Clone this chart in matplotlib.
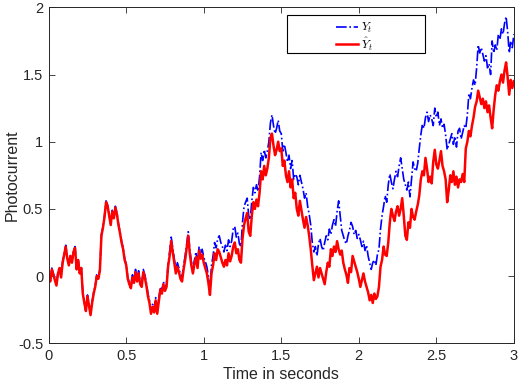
import numpy as np
import matplotlib
matplotlib.use("Agg")
import matplotlib.pyplot as plt
from matplotlib.patches import Rectangle
from matplotlib.ticker import FixedLocator, FuncFormatter

# time samples (s), 0.01 s step
t = np.linspace(0.0, 3.0, 301)

# estimated photocurrent \hat{Y}_t (red)
y_hat = [
    0.00, -0.04, 0.05, 0.01, -0.03, -0.07, 0.02, 0.06, -0.01, 0.10,
    0.16, 0.22, 0.13, 0.08, 0.15, 0.10, 0.18, 0.21, 0.05, 0.12,
    0.02, 0.06, -0.13, -0.20, -0.26, -0.15, -0.22, -0.29, -0.20, -0.13,
    -0.08, 0.00, -0.02, 0.04, 0.30, 0.36, 0.44, 0.55, 0.52, 0.45,
    0.38, 0.48, 0.43, 0.51, 0.46, 0.38, 0.32, 0.25, 0.20, 0.12,
    0.08, -0.02, -0.06, -0.09, -0.01, -0.05, 0.03, -0.04, 0.02, -0.06,
    -0.08, 0.03, -0.01, -0.07, -0.15, -0.20, -0.28, -0.23, -0.27, -0.18,
    -0.28, -0.19, -0.10, -0.13, -0.06, -0.11, -0.08, 0.07, 0.15, 0.26,
    0.18, 0.10, 0.02, 0.07, 0.03, -0.02, -0.04, 0.05, 0.12, 0.21,
    0.30, 0.17, 0.08, 0.02, 0.09, 0.14, 0.06, 0.19, 0.13, 0.16,
    0.10, 0.06, 0.02, -0.05, -0.14, 0.02, 0.08, 0.17, 0.12, 0.20,
    0.18, 0.14, 0.10, 0.07, 0.12, 0.08, 0.17, 0.11, 0.15, 0.22,
    0.25, 0.17, 0.20, 0.12, 0.10, 0.28, 0.38, 0.43, 0.47, 0.33,
    0.30, 0.45, 0.55, 0.50, 0.57, 0.52, 0.62, 0.78, 0.72, 0.82,
    0.75, 0.80, 0.88, 1.03, 1.06, 0.97, 0.90, 0.94, 1.00, 0.93,
    0.95, 0.82, 0.86, 0.75, 0.70, 0.78, 0.66, 0.72, 0.58, 0.62,
    0.50, 0.45, 0.56, 0.49, 0.42, 0.36, 0.44, 0.38, 0.30, 0.20,
    0.08, -0.03, 0.02, 0.07, -0.01, 0.06, 0.02, -0.02, -0.06, 0.03,
    0.10, 0.07, 0.20, 0.15, 0.22, 0.18, 0.26, 0.20, 0.16, 0.19,
    0.10, 0.05, 0.01, -0.05, 0.06, 0.03, 0.15, 0.11, 0.07, 0.03,
    -0.02, -0.08, -0.03, 0.02, -0.04, -0.08, -0.12, -0.18, -0.14, -0.20,
    -0.13, -0.17, -0.15, -0.08, 0.07, 0.12, 0.22, 0.16, 0.15, 0.25,
    0.40, 0.50, 0.45, 0.41, 0.48, 0.52, 0.45, 0.50, 0.58, 0.45,
    0.30, 0.27, 0.40, 0.36, 0.50, 0.44, 0.42, 0.48, 0.53, 0.60,
    0.72, 0.78, 0.75, 0.88, 0.80, 0.70, 0.74, 0.69, 0.85, 0.94,
    0.83, 0.80, 0.86, 0.93, 0.82, 0.78, 0.72, 0.55, 0.64, 0.75,
    0.70, 0.78, 0.68, 0.74, 0.66, 0.72, 0.70, 0.76, 0.70, 0.95,
    1.00, 1.08, 1.04, 1.12, 1.18, 1.26, 1.30, 1.38, 1.33, 1.28,
    1.32, 1.25, 1.30, 1.22, 1.27, 1.18, 1.10, 1.24, 1.35, 1.42,
    1.38, 1.45, 1.50, 1.44, 1.53, 1.59, 1.48, 1.35, 1.46, 1.40, 1.45,
]

# measured photocurrent Y_t (blue)
y_meas = [
    0.01, -0.03, 0.06, 0.02, -0.02, -0.06, 0.03, 0.07, 0.00, 0.11,
    0.17, 0.23, 0.14, 0.09, 0.16, 0.11, 0.19, 0.22, 0.06, 0.13,
    0.03, 0.07, -0.12, -0.19, -0.25, -0.14, -0.21, -0.28, -0.19, -0.12,
    -0.07, 0.01, -0.01, 0.05, 0.31, 0.37, 0.45, 0.56, 0.53, 0.46,
    0.39, 0.49, 0.44, 0.52, 0.47, 0.39, 0.33, 0.26, 0.21, 0.13,
    0.09, -0.01, -0.05, -0.07, 0.01, -0.03, 0.05, -0.02, 0.04, -0.04,
    -0.06, 0.05, 0.01, -0.05, -0.13, -0.18, -0.26, -0.21, -0.25, -0.16,
    -0.26, -0.17, -0.08, -0.11, -0.04, -0.09, -0.06, 0.09, 0.18, 0.29,
    0.21, 0.13, 0.05, 0.10, 0.06, 0.01, -0.01, 0.08, 0.15, 0.24,
    0.33, 0.20, 0.11, 0.05, 0.12, 0.18, 0.09, 0.22, 0.17, 0.20,
    0.14, 0.11, 0.07, 0.00, -0.09, 0.08, 0.15, 0.25, 0.21, 0.28,
    0.30, 0.25, 0.22, 0.18, 0.23, 0.19, 0.27, 0.22, 0.26, 0.35,
    0.37, 0.29, 0.32, 0.24, 0.22, 0.40, 0.52, 0.55, 0.58, 0.45,
    0.42, 0.56, 0.66, 0.62, 0.68, 0.63, 0.74, 0.92, 0.86, 0.94,
    0.88, 0.93, 1.00, 1.14, 1.20, 1.12, 1.06, 1.10, 1.16, 1.08,
    1.06, 0.93, 0.98, 0.92, 0.85, 0.90, 0.80, 0.86, 0.72, 0.76,
    0.74, 0.68, 0.75, 0.70, 0.65, 0.58, 0.62, 0.52, 0.46, 0.38,
    0.25, 0.18, 0.22, 0.15, 0.24, 0.28, 0.22, 0.19, 0.25, 0.30,
    0.27, 0.35, 0.31, 0.38, 0.42, 0.37, 0.48, 0.56, 0.45, 0.34,
    0.30, 0.26, 0.24, 0.30, 0.34, 0.40, 0.37, 0.31, 0.34, 0.28,
    0.31, 0.27, 0.22, 0.26, 0.19, 0.23, 0.15, 0.10, 0.05, 0.10,
    0.12, 0.08, 0.16, 0.20, 0.35, 0.45, 0.52, 0.60, 0.55, 0.68,
    0.76, 0.70, 0.65, 0.72, 0.78, 0.74, 0.82, 0.88, 0.80, 0.72,
    0.68, 0.64, 0.70, 0.59, 0.72, 0.85, 0.80, 0.78, 0.84, 0.95,
    1.05, 1.13, 1.10, 1.18, 1.22, 1.15, 1.20, 1.17, 1.12, 1.25,
    1.18, 1.22, 1.12, 1.17, 1.10, 1.13, 1.05, 0.94, 0.98, 1.02,
    1.06, 0.98, 1.04, 0.96, 1.08, 1.10, 1.02, 1.07, 1.12, 1.10,
    1.20, 1.36, 1.32, 1.40, 1.46, 1.42, 1.55, 1.72, 1.66, 1.70,
    1.65, 1.60, 1.64, 1.55, 1.58, 1.50, 1.75, 1.66, 1.72, 1.68,
    1.80, 1.76, 1.84, 1.80, 1.88, 1.93, 1.82, 1.66, 1.75, 1.70, 1.80,
]

x_ticks = [0, 0.5, 1, 1.5, 2, 2.5, 3]
y_ticks = [-0.5, 0, 0.5, 1, 1.5, 2]

plt.rcParams['font.family'] = ['Liberation Sans', 'DejaVu Sans']
plt.rcParams['mathtext.fontset'] = 'cm'

fig = plt.figure(figsize=(5.18, 3.90), dpi=100)
ax = fig.add_axes([0.094, 0.1197, 0.898, 0.8615])

ax.plot(t, y_meas, color=(0, 0, 1), linestyle='-.', linewidth=1.2, label=r'$Y_t$')
ax.plot(t, y_hat, color=(1, 0, 0), linestyle='-', linewidth=1.8, label=r'$\hat{Y}_t$')

ax.set_xlim(0, 3)
ax.set_ylim(-0.5, 2)
ax.xaxis.set_major_locator(FixedLocator(x_ticks))
ax.yaxis.set_major_locator(FixedLocator(y_ticks))
fmt = FuncFormatter(lambda v, p: ('%g' % v).replace('\u2212', '-'))
ax.xaxis.set_major_formatter(fmt)
ax.yaxis.set_major_formatter(fmt)

dark = (0.15, 0.15, 0.15)
ax.tick_params(direction='in', top=True, right=True, length=4, width=0.6,
               colors=dark, labelsize=10.5, pad=4)
for s in ax.spines.values():
    s.set_color(dark)
    s.set_linewidth(0.7)

ax.set_xlabel('Time in seconds', fontsize=11.5, color=dark, labelpad=3)
ax.set_ylabel('Photocurrent', fontsize=11.5, color=dark, labelpad=-1)

# legend box (MATLAB-style wide box)
ax.add_patch(Rectangle((0.5125, 0.865), 0.297, 0.112, transform=ax.transAxes,
                       facecolor='white', edgecolor='black', linewidth=0.8, zorder=4))
leg = ax.legend(loc='center left', bbox_to_anchor=(0.617, 0.912), frameon=False,
                fontsize=8.5, handlelength=1.85, handletextpad=0.3, borderpad=0,
                borderaxespad=0, labelspacing=0.0)
leg.set_zorder(5)

fig.savefig('out.png', dpi=100)
